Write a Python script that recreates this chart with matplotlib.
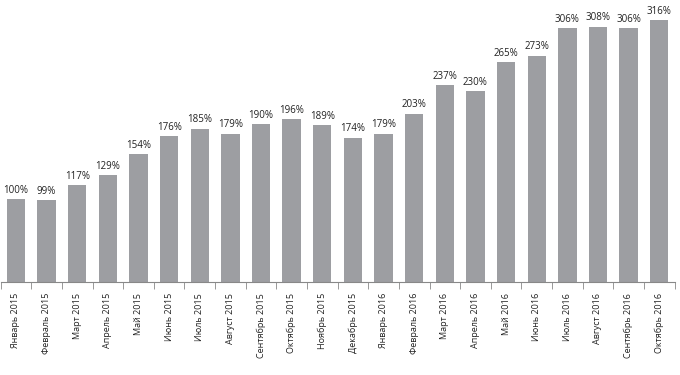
import matplotlib
matplotlib.use("Agg")
import matplotlib.pyplot as plt
import numpy as np

# Months (Russian labels) and index values in percent
months = ["Январь 2015", "Февраль 2015", "Март 2015", "Апрель 2015", "Май 2015",
          "Июнь 2015", "Июль 2015", "Август 2015", "Сентябрь 2015", "Октябрь 2015",
          "Ноябрь 2015", "Декабрь 2015", "Январь 2016", "Февраль 2016", "Март 2016",
          "Апрель 2016", "Май 2016", "Июнь 2016", "Июль 2016", "Август 2016",
          "Сентябрь 2016", "Октябрь 2016"]
values = [100, 99, 117, 129, 154, 176, 185, 179, 190, 196, 189, 174, 179, 203,
          237, 230, 265, 273, 306, 308, 306, 316]

plt.rcParams['font.family'] = ['Open Sans', 'DejaVu Sans']

fig = plt.figure(figsize=(6.8, 3.75), dpi=100)
ax = fig.add_axes([0.001, 0.248, 0.991, 0.752])

x = np.arange(len(values))
bars = ax.bar(x, values, width=0.6, color="#9d9ea2")

for xi, v in zip(x, values):
    ax.text(xi, v + 4, f"{v}%", ha="center", va="bottom", fontsize=7, color="#222222")

ax.set_xlim(-0.5, len(values) - 0.5)
ax.set_ylim(0, 340)
ax.set_yticks([])

# category labels, tick marks between categories
ax.set_xticks(x)
ax.set_xticklabels(months, rotation=90, fontsize=6.5, color="#222222")
ax.tick_params(axis="x", which="major", length=0, pad=8)
ax.set_xticks(np.arange(-0.5, len(values)), minor=True)
ax.tick_params(axis="x", which="minor", length=5, color="#888888", direction="out")

for s in ["top", "right", "left"]:
    ax.spines[s].set_visible(False)
ax.spines["bottom"].set_color("#888888")
ax.spines["bottom"].set_linewidth(0.8)

fig.savefig("out.png", dpi=100)
